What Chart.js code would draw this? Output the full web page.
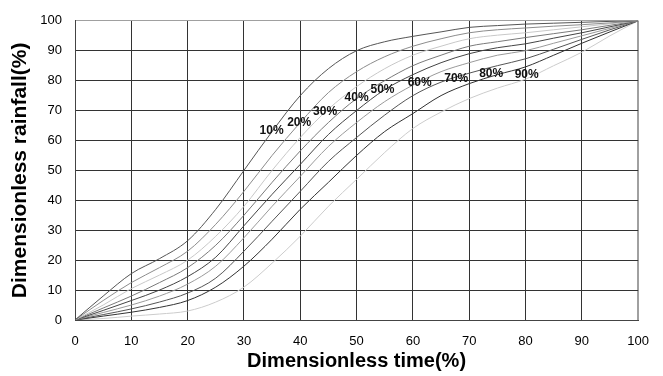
<!DOCTYPE html>
<html>
<head>
<meta charset="utf-8">
<script src="https://cdn.jsdelivr.net/npm/chart.js@4.4.0/dist/chart.umd.min.js"></script>
<style>
  html, body { margin: 0; padding: 0; background: #fff; }
  #wrap { width: 663px; height: 376px; }
</style>
</head>
<body>
<div id="wrap"><canvas id="chart"></canvas></div>
<script>
// dimensionless time (%)
var timeSteps = [0, 5, 10, 15, 20, 25, 30, 35, 40, 45, 50, 55, 60, 65, 70, 75, 80, 85, 90, 95, 100];

// dimensionless rainfall (%) for each quartile curve
var rain10 = [0, 8, 15.5, 20.5, 26.5, 37, 50, 63, 75, 84, 90, 93, 94.8, 96.3, 97.8, 98.4, 98.9, 99.2, 99.5, 99.8, 100];
var rain20 = [0, 6.5, 12.5, 17.5, 23, 32, 43, 55, 66, 76, 83, 88, 91.5, 94, 96, 97, 97.6, 98.2, 98.7, 99.3, 100];
var rain30 = [0, 5, 10.5, 15, 20, 28, 38, 50, 61, 70.5, 78, 84, 88.5, 91.5, 94, 95.2, 96, 97, 98, 99, 100];
var rain40 = [0, 4, 8, 12.5, 17.5, 25, 35, 46, 56.5, 66, 74, 80, 85, 88.5, 91.5, 93, 94.4, 95.7, 97, 98.5, 100];
var rain50 = [0, 3.2, 6.5, 10, 14.5, 21, 31.5, 42, 52, 62, 70, 77, 82, 86, 89, 91, 92.3, 94.2, 96, 98, 100];
var rain60 = [0, 2.5, 5, 8, 12, 18, 27.5, 38, 48, 58, 66, 73, 78.5, 83, 86, 88.5, 90, 92.5, 95, 97.5, 100];
var rain70 = [0, 1.8, 3.7, 6, 9, 14, 23, 33, 43, 53, 61, 68.5, 75, 79.5, 82.5, 85, 87.3, 90.5, 93.8, 97, 100];
var rain80 = [0, 1.3, 2.6, 4.2, 6.5, 11, 18, 27, 37, 46, 55, 63, 69, 75, 79, 82, 84.6, 88.5, 92.5, 96.3, 100];
var rain90 = [0, 0.5, 1.3, 2, 3, 6, 11, 19, 28, 38, 47, 56, 64, 69.5, 74, 77.5, 80.5, 85, 89.5, 95, 100];

var curveNames = ['10%', '20%', '30%', '40%', '50%', '60%', '70%', '80%', '90%'];
var curveValues = [rain10, rain20, rain30, rain40, rain50, rain60, rain70, rain80, rain90];
var curveColors = ['#555555', '#8c8c8c', '#c8c8c8', '#7a7a7a', '#444444', '#9a9a9a', '#555555', '#333333', '#cccccc'];

// where each curve's label sits (data units)
var labelTime = [34.9, 39.8, 44.4, 50, 54.6, 61.2, 67.7, 73.9, 80.2];
var labelRain = [63.4, 66, 69.6, 74.2, 77.1, 79.4, 80.8, 82.3, 82];

var datasets = curveNames.map(function (name, i) {
    return {
        label: name,
        data: timeSteps.map(function (t, j) { return { x: t, y: curveValues[i][j] }; }),
        borderColor: curveColors[i],
        borderWidth: 1,
        pointRadius: 0,
        fill: false,
        cubicInterpolationMode: 'monotone'
    };
});

var curveLabels = {
    id: 'curveLabels',
    afterDatasetsDraw: function (chart) {
        var ctx = chart.ctx;
        var xs = chart.scales.x, ys = chart.scales.y;
        ctx.save();
        ctx.font = 'bold 12px "Liberation Sans", Arial, sans-serif';
        ctx.fillStyle = '#111';
        ctx.textAlign = 'center';
        ctx.textBaseline = 'middle';
        curveNames.forEach(function (name, i) {
            ctx.fillText(name, xs.getPixelForValue(labelTime[i]), ys.getPixelForValue(labelRain[i]));
        });
        ctx.restore();
    }
};

var chart = new Chart(document.getElementById('chart'), {
    type: 'line',
    data: { datasets: datasets },
    options: {
        responsive: true,
        maintainAspectRatio: false,
        animation: false,
        layout: { padding: { top: 13, right: 24, left: 0, bottom: 0 } },
        plugins: {
            legend: { display: false },
            tooltip: { enabled: false }
        },
        scales: {
            x: {
                type: 'linear',
                min: 0,
                max: 100,
                afterFit: function (scale) { scale.height = 56; },
                ticks: {
                    stepSize: 10,
                    padding: 14,
                    color: '#000',
                    font: { family: '"Liberation Sans", Arial, sans-serif', size: 13 }
                },
                grid: {
                    drawTicks: false,
                    color: function (c) { return c.tick && c.tick.value === 100 ? '#a0a0a0' : '#333333'; },
                    lineWidth: function (c) { return c.tick && c.tick.value === 100 ? 2 : 1; }
                },
                border: { color: '#444', width: 1 },
                title: {
                    display: true,
                    text: 'Dimensionless time(%)',
                    color: '#000',
                    padding: { top: 0, bottom: 3 },
                    font: { family: '"Liberation Sans", Arial, sans-serif', size: 20, weight: 'bold' }
                }
            },
            y: {
                min: 0,
                max: 100,
                afterFit: function (scale) { scale.width = 75; },
                ticks: {
                    stepSize: 10,
                    padding: 13,
                    color: '#000',
                    font: { family: '"Liberation Sans", Arial, sans-serif', size: 13 }
                },
                grid: {
                    drawTicks: false,
                    color: function (c) { return c.tick && c.tick.value === 100 ? '#a0a0a0' : '#333333'; },
                    lineWidth: 1
                },
                border: { color: '#444', width: 1 },
                title: {
                    display: true,
                    text: 'Dimensionless rainfall(%)',
                    color: '#000',
                    padding: { top: 8, bottom: 0 },
                    font: { family: '"Liberation Sans", Arial, sans-serif', size: 21, weight: 'bold' }
                }
            }
        }
    },
    plugins: [curveLabels]
});
</script>
</body>
</html>
